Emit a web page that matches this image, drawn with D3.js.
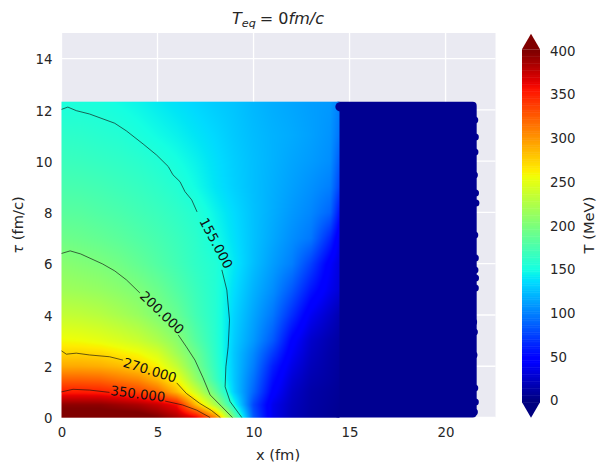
<!DOCTYPE html>
<html>
<head>
<meta charset="utf-8">
<script src="https://cdn.jsdelivr.net/npm/d3@7"></script>
<style>
  html, body { margin: 0; padding: 0; background: #fff; }
  svg { display: block; font-family: "DejaVu Sans", sans-serif; }
  text { fill: #262626; }
</style>
</head>
<body>
<svg id="chart" width="606" height="472"></svg>
<script>
const xTicks = [0, 5, 10, 15, 20];
const tauTicks = [0, 2, 4, 6, 8, 10, 12, 14];
const cbarTicks = [0, 50, 100, 150, 200, 250, 300, 350, 400];

// temperature table in MeV. one row per tau, one column per x
const gridX = [0, 1, 2, 3, 4, 5, 6, 7, 8, 9, 10, 11, 12, 13, 14, 14.5];
const gridTau = [0, 0.5, 1, 1.5, 2, 2.5, 3, 4, 5, 6, 7, 8, 9, 10, 11, 12.32];
const gridT = [
  [410, 410, 410, 410, 410, 400, 385, 365, 310, 190, 85, 38, 20, 12, 8, 6],
  [395, 395, 395, 390, 385, 375, 358, 285, 225, 150, 78, 38, 22, 13, 9, 7],
  [352, 352, 351, 345, 335, 320, 285, 240, 190, 130, 90, 48, 25, 14, 10, 8],
  [322, 322, 320, 312, 305, 285, 258, 212, 170, 128, 95, 55, 30, 17, 12, 9],
  [292, 292, 290, 285, 276, 262, 235, 198, 165, 128, 100, 62, 36, 20, 13, 10],
  [274, 274, 272, 265, 258, 245, 218, 192, 162, 128, 104, 73, 42, 23, 14, 11],
  [258, 256, 252, 246, 238, 225, 208, 182, 160, 130, 110, 85, 48, 26, 16, 12],
  [235, 233, 229, 222, 214, 202, 190, 172, 158, 133, 115, 97, 68, 40, 25, 17],
  [217, 215, 212, 207, 201, 192, 180, 168, 157, 137, 120, 106, 85, 58, 38, 30],
  [206, 203, 200, 195, 188, 180, 172, 163, 156, 141, 125, 112, 100, 75, 44, 32],
  [193, 191, 188, 184, 179, 174, 168, 161, 150, 138, 126, 116, 106, 97, 65, 38],
  [183, 182, 179, 176, 172, 168, 163, 157, 146, 136, 126, 118, 110, 103, 90, 55],
  [175, 174, 172, 169, 166, 162, 157, 149, 140, 132, 125, 119, 113, 107, 100, 75],
  [168, 167, 165, 163, 160, 156, 151, 145, 138, 131, 125, 120, 115, 111, 106, 85],
  [162, 161, 159, 157, 153, 149, 145, 140, 135, 129, 124, 120, 117, 113, 108, 95],
  [152, 153, 152, 149, 146, 142, 138, 134, 130, 127, 122, 118, 115, 112, 110, 100]
];

// cold outer block of the scatter, and the dots sticking out of its edge
const coldT = 6;
const coldXRange = [14.2, 21.62];
const coldTauRange = [0, 12.32];
const dotX = [14.5, 21.52, 21.55, 21.53, 21.5, 21.56, 21.58, 21.52, 21.55, 21.53, 21.56, 21.55, 21.46, 21.5, 21.48, 21.52, 21.5, 21.55];
const dotTau = [12.12, 11.61, 10.94, 10.36, 9.46, 8.76, 8.37, 7.12, 6.22, 5.75, 5.44, 5.05, 3.73, 3.34, 2.44, 1.15, 0.21, 0.6];

// contour lines, [x, tau], split where the inline labels sit
const contour155 = [
  [[0, 12.02], [0.33, 12.11], [0.77, 11.97], [1.46, 11.84], [2.77, 11.48], [3.38, 11.18], [4.25, 10.67], [4.95, 10.24], [5.56, 9.79], [5.8, 9.47], [6.17, 9.2], [6.43, 8.81], [6.78, 8.49], [7.06, 8.02]],
  [[8.35, 5.76], [8.61, 4.97], [8.75, 3.8], [8.68, 2.76], [8.56, 1.98], [8.52, 1.2], [8.78, 0.62], [9.39, 0]]
];
const contour200 = [
  [[0, 6.4], [0.45, 6.5], [1.0, 6.38], [2.14, 5.99], [2.77, 5.72], [3.38, 5.37], [4.08, 4.86]],
  [[6.08, 3.22], [6.5, 2.76], [6.95, 2.24], [7.37, 1.55], [7.74, 0.88], [8.35, 0.42], [8.9, 0]]
];
const contour270 = [
  [[0, 2.6], [0.25, 2.47], [0.77, 2.51], [1.46, 2.44], [2.5, 2.37], [3.2, 2.24]],
  [[6.0, 1.35], [6.5, 0.94], [7.2, 0.55], [7.8, 0.28], [8.27, 0]]
];
const contour350 = [
  [[0, 1.0], [0.6, 1.1], [1.46, 1.07], [2.5, 0.98]],
  [[5.4, 0.64], [6.3, 0.49], [7.03, 0.29], [7.74, 0]]
];
const contourSets = [contour155, contour200, contour270, contour350];

const labelTexts = ["155.000", "200.000", "270.000", "350.000"];
const labelX = [8.06, 5.24, 4.61, 3.98];
const labelTau = [6.8, 4.09, 1.85, 0.93];
const labelAngle = [62, 44, 17, 7];

const svg = d3.select("#chart");

const x = d3.scaleLinear().domain([0, 22.6]).range([61.5, 495.5]);
const y = d3.scaleLinear().domain([0, 15]).range([417.5, 33]);
const cbar = d3.scaleLinear().domain([0, 400]).range([400.5, 51]);

// matplotlib jet
const jetR = d3.scaleLinear().domain([0, 0.35, 0.66, 0.89, 1]).range([0, 0, 1, 1, 0.5]).clamp(true);
const jetG = d3.scaleLinear().domain([0, 0.125, 0.375, 0.64, 0.91, 1]).range([0, 0, 1, 1, 0, 0]).clamp(true);
const jetB = d3.scaleLinear().domain([0, 0.11, 0.34, 0.65, 1]).range([0.5, 1, 1, 0, 0]).clamp(true);
function jet(t) {
  const v = t / 400;
  return [jetR(v) * 255, jetG(v) * 255, jetB(v) * 255];
}
const jetCss = (t) => `rgb(${jet(t).map(Math.round).join(",")})`;

// bilinear lookup in the table
function tempAt(px, ptau) {
  const i = Math.min(d3.bisectRight(gridX, px) - 1, gridX.length - 2);
  const j = Math.min(d3.bisectRight(gridTau, ptau) - 1, gridTau.length - 2);
  const fx = Math.max(0, Math.min(1, (px - gridX[i]) / (gridX[i + 1] - gridX[i])));
  const fy = Math.max(0, Math.min(1, (ptau - gridTau[j]) / (gridTau[j + 1] - gridTau[j])));
  const a = gridT[j][i] * (1 - fx) + gridT[j][i + 1] * fx;
  const b = gridT[j + 1][i] * (1 - fx) + gridT[j + 1][i + 1] * fx;
  return a * (1 - fy) + b * fy;
}

// background and grid
svg.append("rect")
  .attr("x", x(0)).attr("y", y(15))
  .attr("width", x(22.6) - x(0)).attr("height", y(0) - y(15))
  .attr("fill", "#eaeaf2");

svg.append("g").selectAll("line").data(xTicks).enter().append("line")
  .attr("x1", (d) => x(d)).attr("x2", (d) => x(d))
  .attr("y1", y(0)).attr("y2", y(15))
  .attr("stroke", "#fff").attr("stroke-width", 1.33);
svg.append("g").selectAll("line").data(tauTicks).enter().append("line")
  .attr("x1", x(0)).attr("x2", x(22.6))
  .attr("y1", (d) => y(d)).attr("y2", (d) => y(d))
  .attr("stroke", "#fff").attr("stroke-width", 1.33);

// cold block first, the smooth part goes over its left edge
svg.append("rect")
  .attr("x", x(coldXRange[0])).attr("y", y(coldTauRange[1]))
  .attr("width", x(coldXRange[1]) - x(coldXRange[0]))
  .attr("height", y(coldTauRange[0]) - y(coldTauRange[1]))
  .attr("rx", 4)
  .attr("fill", jetCss(coldT));

const imgW = Math.round(x(14.5) - x(0));
const imgH = Math.round(y(0) - y(12.32));
const canvas = document.createElement("canvas");
canvas.width = imgW;
canvas.height = imgH;
const ctx = canvas.getContext("2d");
const pixels = ctx.createImageData(imgW, imgH);
for (let row = 0; row < imgH; row += 1) {
  for (let col = 0; col < imgW; col += 1) {
    const c = jet(tempAt(x.invert(x(0) + col + 0.5), y.invert(y(12.32) + row + 0.5)));
    const k = (row * imgW + col) * 4;
    pixels.data[k] = c[0];
    pixels.data[k + 1] = c[1];
    pixels.data[k + 2] = c[2];
    pixels.data[k + 3] = 255;
  }
}
ctx.putImageData(pixels, 0, 0);
svg.append("image")
  .attr("x", x(0)).attr("y", y(12.32))
  .attr("width", imgW).attr("height", imgH)
  .attr("href", canvas.toDataURL());

svg.append("g").selectAll("circle").data(dotX).enter().append("circle")
  .attr("cx", (d) => x(d))
  .attr("cy", (d, i) => y(dotTau[i]))
  .attr("r", (d, i) => (i === 0 ? 4.6 : 3.5))
  .attr("fill", jetCss(coldT));

// contours
const contourLine = d3.line().x((d) => x(d[0])).y((d) => y(d[1]));
contourSets.forEach((segments) => {
  svg.append("g").selectAll("path").data(segments).enter().append("path")
    .attr("d", contourLine)
    .attr("fill", "none")
    .attr("stroke", "#111")
    .attr("stroke-width", 0.65);
});

svg.append("g").selectAll("text").data(labelTexts).enter().append("text")
  .attr("transform", (d, i) => `translate(${x(labelX[i])},${y(labelTau[i])}) rotate(${labelAngle[i]})`)
  .attr("text-anchor", "middle")
  .attr("dy", "0.36em")
  .attr("font-size", 13.33)
  .style("fill", "#111")
  .text((d) => d);

// axes
const xAxis = svg.append("g")
  .attr("transform", `translate(0,${y(0)})`)
  .call(d3.axisBottom(x).tickValues(xTicks).tickSize(0).tickPadding(10));
const yAxis = svg.append("g")
  .attr("transform", `translate(${x(0)},1)`)
  .call(d3.axisLeft(y).tickValues(tauTicks).tickSize(0).tickPadding(9));
[xAxis, yAxis].forEach((g) => {
  g.select(".domain").remove();
  g.selectAll("text")
    .attr("font-family", "DejaVu Sans")
    .attr("font-size", 13.33)
    .style("fill", "#262626");
});

svg.append("text")
  .attr("x", 278).attr("y", 460)
  .attr("text-anchor", "middle")
  .attr("font-size", 14.67)
  .text("x (fm)");

const tauLabel = svg.append("text")
  .attr("transform", "translate(23,225) rotate(-90)")
  .attr("text-anchor", "middle")
  .attr("font-size", 14.67);
tauLabel.append("tspan").attr("font-style", "italic").text("\u03c4");
tauLabel.append("tspan").text(" (fm/c)");

const title = svg.append("text")
  .attr("x", 278).attr("y", 24)
  .attr("text-anchor", "middle")
  .attr("font-size", 16);
title.append("tspan").attr("font-style", "italic").text("T");
title.append("tspan").attr("font-style", "italic").attr("font-size", 11.2).attr("dy", 3).text("eq");
title.append("tspan").attr("dy", -3).attr("dx", 4).text("= 0");
title.append("tspan").attr("font-style", "italic").text("fm/c");

// colourbar, the band runs a little past both end ticks
const cbarX = [522, 540];
const cbarSteps = d3.range(-2, 402, 2);
svg.append("g").selectAll("rect").data(cbarSteps).enter().append("rect")
  .attr("x", cbarX[0])
  .attr("y", (d) => cbar(d + 2))
  .attr("width", cbarX[1] - cbarX[0])
  .attr("height", (d) => cbar(d) - cbar(d + 2) + 0.5)
  .attr("fill", (d) => jetCss(d + 1));

const cbarTop = cbar(402);
const cbarBottom = cbar(-2);
const arrowLength = 15.5;
const cbarMidX = (cbarX[0] + cbarX[1]) / 2;
svg.append("path")
  .attr("d", `M${cbarX[0]},${cbarTop}L${cbarMidX},${cbarTop - arrowLength}L${cbarX[1]},${cbarTop}Z`)
  .attr("fill", jetCss(400));
svg.append("path")
  .attr("d", `M${cbarX[0]},${cbarBottom}L${cbarMidX},${cbarBottom + arrowLength}L${cbarX[1]},${cbarBottom}Z`)
  .attr("fill", jetCss(0));

const cbarAxis = svg.append("g")
  .attr("transform", `translate(${cbarX[1]},0)`)
  .call(d3.axisRight(cbar).tickValues(cbarTicks).tickSize(0).tickPadding(10));
cbarAxis.select(".domain").remove();
cbarAxis.selectAll("text")
  .attr("font-family", "DejaVu Sans")
  .attr("font-size", 13.33)
  .style("fill", "#262626");

svg.append("text")
  .attr("transform", "translate(594,225) rotate(-90)")
  .attr("text-anchor", "middle")
  .attr("font-size", 14.67)
  .text("T (MeV)");
</script>
</body>
</html>
